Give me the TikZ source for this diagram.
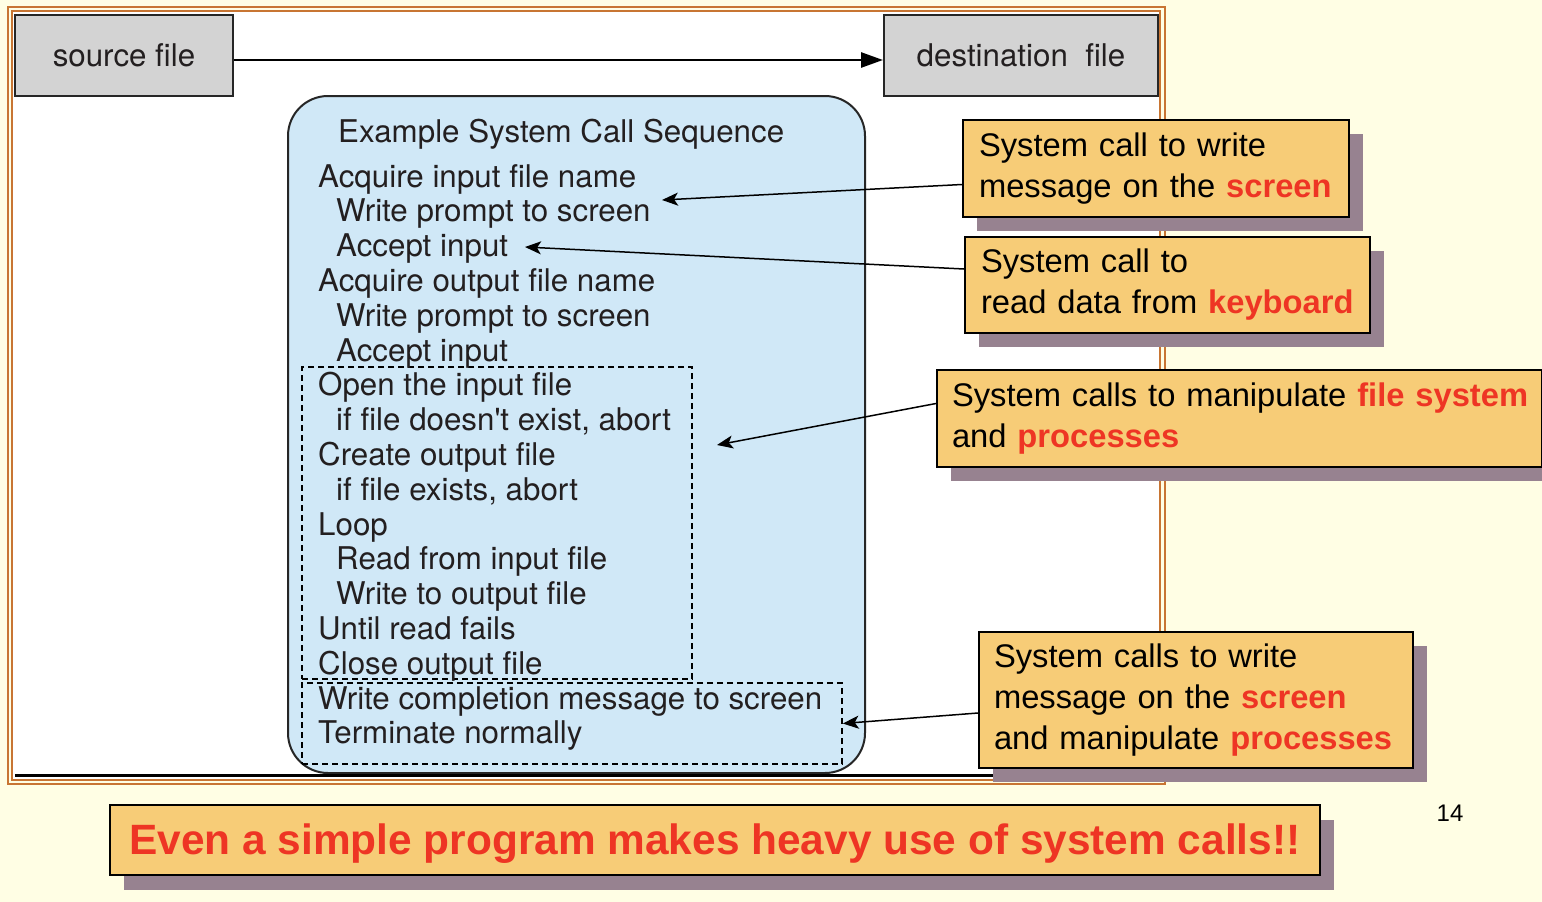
\documentclass[tikz,border=0pt]{standalone}
\usepackage{fontspec}
\setmainfont{Liberation Sans}
\newfontfamily\figfont{TeX Gyre Heros}
\usetikzlibrary{arrows.meta,shadows}
\definecolor{bgc}{RGB}{255,254,228}
\definecolor{framec}{RGB}{200,117,51}
\definecolor{grayc}{RGB}{211,211,211}
\definecolor{bluec}{RGB}{208,232,247}
\definecolor{callc}{RGB}{247,204,119}
\definecolor{shadc}{RGB}{151,130,144}
\definecolor{redc}{RGB}{238,53,36}
\definecolor{figtext}{RGB}{35,31,32}
\newcommand\redbf[1]{\textcolor{redc}{\bfseries #1}}
\begin{document}
\begin{tikzpicture}[x=1pt,y=-1pt,
  figtxt/.style={font=\figfont\fontsize{31.3}{34.8}\selectfont, text=figtext, inner sep=0pt, anchor=base west},
  filebox/.style={draw=black!85, line width=2pt, fill=grayc, minimum height=81pt, font=\figfont\fontsize{31.3}{36}\selectfont, text=figtext, inner sep=0pt},
  callout/.style={draw=black, line width=2pt, fill=callc, align=left, inner xsep=16pt, inner ysep=0pt, font=\fontsize{32.7}{41}\selectfont, anchor=north west, drop shadow={shadow xshift=14pt, shadow yshift=-14pt, fill=shadc, opacity=1}},
  ptr/.style={draw=black, line width=1.5pt, -{Stealth[length=16pt,width=13pt,inset=4pt]}},
  dashbox/.style={draw=black, line width=1.5pt, dash pattern=on 6pt off 4pt, inner sep=0pt}
]
\useasboundingbox[fill=bgc] (0,0) rectangle (1542,902);
% frame
\draw[framec, line width=2pt] (8,7) rectangle (1164.5,783.5);
\draw[framec, line width=2pt, fill=white] (12,11) rectangle (1160,779.5);
% file boxes
\node[filebox, minimum width=218pt] (src) at (124,55.5) {source file};
\node[filebox, minimum width=274pt] (dst) at (1021,55.5) {destination\ \ file};
\draw[line width=2.7pt, -{Triangle[length=22pt,width=15pt]}] ([yshift=-4.5pt]src.east) -- ([yshift=-4.5pt]dst.west);
% sequence box
\node[draw=black!85, line width=2pt, fill=bluec, rounded corners=40pt, minimum width=577pt, minimum height=677pt, inner sep=0pt] (seq) at (576.5,434.5) {};
\node[dashbox, minimum width=390pt, minimum height=312pt] (dashA) at (497,523) {};
\node[dashbox, minimum width=540pt, minimum height=81pt] (dashB) at (572,723.5) {};
\draw[black, line width=3pt] (15,775.5) -- (1158,775.5);
\node[figtxt] (title) at (338,142) {Example System Call Sequence};
\foreach \i/\x/\t in {1/318/{Acquire input file name},2/336/{Write prompt to screen},3/336/{Accept input},4/318/{Acquire output file name},5/336/{Write prompt to screen},6/336/{Accept input},7/318/{Open the input file},8/336/{if file doesn't exist, abort},9/318/{Create output file},10/336/{if file exists, abort},11/318/{Loop},12/336/{Read from input file},13/336/{Write to output file},14/318/{Until read fails},15/318/{Close output file},16/318/{Write completion message to screen},17/318/{Terminate normally}}{
  \pgfmathsetmacro\yy{187+34.8*(\i-1)}
  \node[figtxt] (l\i) at (\x,\yy) {\t};
}
% callouts
\node[callout, text width=354pt, minimum height=97pt] (c1) at (962,119) {\mbox{System call to write}\\\mbox{message on the \redbf{screen}}};
\node[callout, text width=373pt, minimum height=96pt] (c2) at (964,236) {\mbox{System call to}\\\mbox{read data from \redbf{keyboard}}};
\node[callout, inner xsep=15pt, text width=575pt, minimum height=97pt] (c3) at (936,369) {\mbox{System calls to manipulate \redbf{file system}}\\\mbox{and \redbf{processes}}};
\node[callout, inner xsep=15pt, text width=404pt, minimum height=136pt] (c4) at (978,631) {\mbox{System calls to write}\\\mbox{message on the \redbf{screen}}\\\mbox{and manipulate \redbf{processes}}};
\coordinate (t1) at (662,200);
\coordinate (t2) at (525,247);
\coordinate (t3) at (717,445);
\draw[ptr] ([yshift=-16pt]c1.west) -- (t1);
\draw[ptr] ([yshift=16pt]c2.west) -- (t2);
\draw[ptr] ([yshift=15pt]c3.west) -- (t3);
\draw[ptr] ([yshift=-13pt]c4.west) -- (dashB.east);
% banner
\node[draw=black, line width=2pt, fill=callc, minimum width=1210pt, minimum height=70pt, inner sep=0pt, text height=34pt, text depth=6pt, font=\fontsize{42.4}{50}\selectfont\bfseries, text=redc, drop shadow={shadow xshift=14pt, shadow yshift=-15pt, fill=shadc, opacity=1}] (banner) at (715,840) {Even a simple program makes heavy use of system calls!!};
\node[font=\fontsize{24}{28}\selectfont, inner sep=0pt] (pnum) at (1450,813) {14};
\end{tikzpicture}
\end{document}
